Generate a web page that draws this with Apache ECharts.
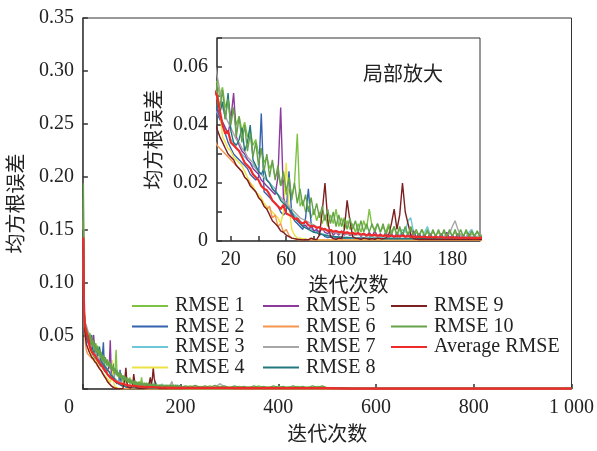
<!DOCTYPE html>
<html>
<head>
<meta charset="utf-8">
<script src="https://cdn.jsdelivr.net/npm/echarts@6/dist/echarts.min.js"></script>
<style>html,body{margin:0;padding:0;background:#fff}#c{width:597px;height:451px}</style>
</head>
<body>
<div id="c"></div>
<script>
// Iteration numbers (shared x values)
const ITER = [1,2,3,4,5,6,7,8,9,
10,12,14,16,18,20,22,24,26,28,30,32,34,36,38,40,42,44,46,48,
50,52,54,56,58,60,62,64,66,68,70,72,74,76,78,80,82,84,86,88,
90,92,94,96,98,100,102,104,106,108,110,112,114,116,118,120,122,124,126,128,
130,132,134,136,138,140,142,144,146,148,150,152,154,156,158,160,162,164,166,168,
170,172,174,176,178,180,182,184,186,188,190,192,194,196,198,200,
210,220,230,240,250,260,270,280,290,300,310,320,330,340,350,360,370,380,390,400,
410,420,430,440,450,460,470,480,490,500,
550,600,650,700,750,800,850,900,950,1000];

const NAMES = ['RMSE 1','RMSE 2','RMSE 3','RMSE 4','RMSE 5','RMSE 6','RMSE 7','RMSE 8','RMSE 9','RMSE 10','Average RMSE'];
const COLORS = ['#7dc243','#3563ad','#6cc8d6','#ece343','#8c3a9c','#f5964f','#a6a6a6','#23787e','#7b1f1f','#65a24a','#ee2b2b'];

const rmse1 = [0.180,0.092,0.072,0.064,0.060,0.058,0.056,0.055,0.055,
0.055,0.050,0.053,0.046,0.049,0.043,0.046,0.040,0.043,0.038,
0.041,0.036,0.038,0.033,0.035,0.030,0.032,0.027,0.029,0.025,
0.027,0.022,0.024,0.019,0.021,0.016,0.018,0.014,0.020,0.037,
0.012,0.014,0.010,0.012,0.008,0.011,0.007,0.010,0.006,0.009,
0.005,0.009,0.006,0.011,0.005,0.008,0.004,0.007,0.004,0.006,
0.003,0.006,0.003,0.007,0.004,0.011,0.005,0.004,0.006,0.003,
0.005,0.003,0.006,0.003,0.005,0.002,0.004,0.002,0.004,0.002,
0.004,0.002,0.003,0.002,0.004,0.002,0.003,0.002,0.003,0.002,
0.003,0.002,0.003,0.0015,0.003,0.002,0.003,0.0015,0.0025,0.002,
0.003,0.0015,0.0025,0.002,0.003,0.002,
0.002,0.003,0.0015,0.0025,0.0015,0.003,0.0015,0.0025,0.001,0.002,
0.0015,0.0025,0.001,0.002,0.0015,0.003,0.001,0.002,0.0015,0.0025,
0.001,0.002,0.0015,0.0025,0.001,0.002,0.0015,0.0025,0.002,0.001,
0.0005,0.0005,0.0005,0.0005,0.0005,0.0005,0.0005,0.0005,0.0005,0.0005];

const rmse2 = [0.150,0.085,0.070,0.060,0.055,0.050,0.048,0.046,0.045,
0.045,0.042,0.040,0.037,0.034,0.032,0.030,0.029,0.028,0.027,
0.026,0.025,0.023,0.022,0.021,0.022,0.044,0.017,0.016,0.015,
0.014,0.013,0.012,0.010,0.009,0.010,0.024,0.009,0.007,0.006,
0.005,0.004,0.008,0.018,0.006,0.003,0.0035,0.002,0.0025,0.0015,
0.0012,0.0014,0.001,0.0012,0.001,0.0011,0.0009,0.001,0.0009,0.001,
0.0008,0.0009,0.0008,0.0009,0.0008,0.0009,0.0008,0.0009,0.0008,0.0008,
0.0007,0.0008,0.0007,0.0008,0.0007,0.0008,0.0007,0.0008,0.0007,0.0007,
0.0007,0.0007,0.0006,0.0007,0.0006,0.0007,0.0006,0.0007,0.0006,0.0006,
0.0006,0.0006,0.0006,0.0006,0.0006,0.0006,0.0006,0.0006,0.0006,0.0006,
0.0006,0.0006,0.0006,0.0006,0.0006,0.0006,
0.0006,0.0006,0.0006,0.0006,0.0006,0.0005,0.0005,0.0005,0.0005,0.0005,
0.0006,0.0006,0.0006,0.0006,0.0006,0.0005,0.0005,0.0005,0.0005,0.0005,
0.0006,0.0006,0.0006,0.0006,0.0006,0.0005,0.0005,0.0005,0.0005,0.0005,
0.0004,0.0004,0.0004,0.0004,0.0004,0.0004,0.0004,0.0004,0.0004,0.0004];

const rmse3 = [0.130,0.080,0.065,0.057,0.052,0.049,0.047,0.046,0.045,
0.045,0.043,0.041,0.039,0.037,0.035,0.034,0.032,0.031,0.030,
0.029,0.028,0.027,0.026,0.025,0.024,0.023,0.022,0.021,0.020,
0.019,0.018,0.016,0.015,0.014,0.013,0.011,0.010,0.009,0.008,
0.007,0.006,0.005,0.0045,0.004,0.0035,0.003,0.0028,0.0025,0.0022,
0.002,0.0018,0.0016,0.0015,0.0014,0.0013,0.0012,0.0012,0.0011,0.001,
0.001,0.0012,0.001,0.0011,0.001,0.0012,0.001,0.0011,0.001,0.0012,
0.001,0.0012,0.001,0.0012,0.001,0.0015,0.002,0.004,0.003,0.007,
0.008,0.003,0.0015,0.001,0.0015,0.003,0.005,0.002,0.001,0.0012,
0.001,0.0012,0.001,0.0012,0.001,0.0012,0.001,0.0015,0.001,0.0012,
0.0015,0.003,0.004,0.002,0.001,0.0012,
0.001,0.0012,0.001,0.0015,0.001,0.0012,0.001,0.001,0.0012,0.001,
0.0009,0.001,0.0009,0.001,0.0009,0.001,0.0009,0.0008,0.0009,0.0008,
0.0008,0.0008,0.0007,0.0008,0.0007,0.0008,0.0007,0.0007,0.0007,0.0007,
0.0004,0.0004,0.0004,0.0004,0.0004,0.0004,0.0004,0.0004,0.0004,0.0004];

const rmse4 = [0.160,0.080,0.066,0.058,0.053,0.050,0.050,0.051,0.052,
0.052,0.045,0.036,0.034,0.032,0.031,0.029,0.028,0.027,0.026,
0.024,0.022,0.020,0.019,0.017,0.016,0.015,0.013,0.012,0.011,
0.010,0.009,0.008,0.006,0.010,0.027,0.012,0.004,0.002,0.001,
0.001,0.0008,0.0006,0.0005,0.0005,0.0004,0.0004,0.0004,0.0004,0.0004,
0.0004,0.0004,0.0004,0.0004,0.0004,0.0004,0.0004,0.0004,0.0004,0.0004,
0.0004,0.0004,0.0004,0.0004,0.0004,0.0004,0.0004,0.0004,0.0004,0.0004,
0.0003,0.0003,0.0003,0.0003,0.0003,0.0003,0.0003,0.0003,0.0003,0.0003,
0.0003,0.0003,0.0003,0.0003,0.0003,0.0003,0.0003,0.0003,0.0003,0.0003,
0.0003,0.0003,0.0003,0.0003,0.0003,0.0003,0.0003,0.0003,0.0003,0.0003,
0.0003,0.0003,0.0003,0.0003,0.0003,0.0003,
0.0003,0.0003,0.0003,0.0003,0.0003,0.0003,0.0003,0.0003,0.0003,0.0003,
0.0003,0.0003,0.0003,0.0003,0.0003,0.0003,0.0003,0.0003,0.0003,0.0003,
0.0003,0.0003,0.0003,0.0003,0.0003,0.0003,0.0003,0.0003,0.0003,0.0003,
0.0003,0.0003,0.0003,0.0003,0.0003,0.0003,0.0003,0.0003,0.0003,0.0003];

const rmse5 = [0.140,0.080,0.066,0.058,0.053,0.050,0.048,0.047,0.046,
0.046,0.043,0.041,0.039,0.037,0.042,0.051,0.036,0.033,0.031,
0.030,0.028,0.027,0.025,0.024,0.023,0.021,0.020,0.019,0.018,
0.017,0.016,0.022,0.046,0.015,0.012,0.011,0.009,0.008,0.007,
0.006,0.005,0.0055,0.004,0.005,0.0035,0.004,0.003,0.0045,0.003,
0.0025,0.004,0.002,0.003,0.002,0.0035,0.002,0.003,0.0018,0.0025,
0.002,0.003,0.0015,0.0025,0.0015,0.003,0.0015,0.0035,0.0015,0.0025,
0.0015,0.003,0.0012,0.0025,0.0012,0.0028,0.0012,0.003,0.0012,0.0025,
0.001,0.0035,0.0012,0.0025,0.001,0.002,0.001,0.0025,0.001,0.002,
0.001,0.0025,0.001,0.003,0.001,0.002,0.001,0.0025,0.001,0.002,
0.001,0.0025,0.001,0.002,0.001,0.0015,
0.001,0.0015,0.001,0.0012,0.001,0.0015,0.001,0.0012,0.001,0.0012,
0.0009,0.0012,0.0009,0.001,0.0009,0.0012,0.0009,0.001,0.0009,0.001,
0.0008,0.0015,0.0008,0.001,0.0008,0.0012,0.0008,0.001,0.0008,0.0008,
0.0004,0.0004,0.0004,0.0004,0.0004,0.0004,0.0004,0.0004,0.0004,0.0004];

const rmse6 = [0.120,0.075,0.060,0.052,0.045,0.040,0.037,0.035,0.034,
0.033,0.032,0.031,0.030,0.029,0.028,0.027,0.026,0.025,0.024,
0.022,0.021,0.020,0.018,0.017,0.015,0.014,0.012,0.011,0.012,
0.008,0.009,0.005,0.006,0.003,0.004,0.002,0.001,0.0008,0.0005,
0.0004,0.0004,0.0004,0.0004,0.0004,0.0004,0.0004,0.0004,0.0004,0.0004,
0.0004,0.0004,0.0004,0.0004,0.0004,0.0004,0.0004,0.0004,0.0004,0.0004,
0.0004,0.0004,0.0004,0.0004,0.0004,0.0004,0.0004,0.0004,0.0004,0.0004,
0.0003,0.0003,0.0003,0.0003,0.0003,0.0003,0.0003,0.0003,0.0003,0.0003,
0.0003,0.0003,0.0003,0.0003,0.0003,0.0003,0.0003,0.0003,0.0003,0.0003,
0.0003,0.0003,0.0003,0.0003,0.0003,0.0003,0.0003,0.0003,0.0003,0.0003,
0.0003,0.0003,0.0003,0.0003,0.0003,0.0003,
0.0003,0.0003,0.0003,0.0003,0.0003,0.0003,0.0003,0.0003,0.0003,0.0003,
0.0003,0.0003,0.0003,0.0003,0.0003,0.0003,0.0003,0.0003,0.0003,0.0003,
0.0003,0.0003,0.0003,0.0003,0.0003,0.0003,0.0003,0.0003,0.0003,0.0003,
0.0003,0.0003,0.0003,0.0003,0.0003,0.0003,0.0003,0.0003,0.0003,0.0003];

const rmse7 = [0.170,0.090,0.070,0.065,0.062,0.061,0.060,0.060,0.060,
0.060,0.052,0.046,0.043,0.041,0.039,0.037,0.035,0.034,0.032,
0.031,0.029,0.028,0.027,0.025,0.024,0.023,0.022,0.021,0.020,
0.018,0.017,0.016,0.015,0.014,0.013,0.012,0.011,0.010,0.009,
0.008,0.0075,0.007,0.0065,0.006,0.0055,0.005,0.0045,0.004,0.0038,
0.0035,0.0033,0.003,0.0028,0.0026,0.0025,0.0024,0.0023,0.0022,0.0021,
0.002,0.0022,0.0018,0.002,0.0017,0.0019,0.0016,0.0018,0.0015,0.0017,
0.0015,0.0017,0.0014,0.0016,0.0014,0.0016,0.0013,0.0015,0.0013,0.0015,
0.0013,0.0015,0.0012,0.0014,0.0012,0.0014,0.0012,0.0014,0.0012,0.0014,
0.0012,0.0014,0.0015,0.002,0.0025,0.005,0.007,0.004,0.002,0.0015,
0.0015,0.002,0.0015,0.0018,0.0015,0.002,
0.0015,0.0012,0.002,0.0015,0.0012,0.0015,0.0012,0.005,0.002,0.0012,
0.0015,0.0012,0.0015,0.0012,0.0015,0.001,0.0012,0.001,0.0012,0.001,
0.0012,0.001,0.0012,0.001,0.0012,0.001,0.001,0.001,0.001,0.001,
0.0005,0.0005,0.0005,0.0005,0.0005,0.0005,0.0005,0.0005,0.0005,0.0005];

const rmse8 = [0.150,0.085,0.070,0.060,0.055,0.052,0.050,0.048,0.047,
0.046,0.044,0.048,0.042,0.051,0.038,0.034,0.033,0.035,0.039,
0.031,0.034,0.040,0.028,0.026,0.024,0.023,0.025,0.021,0.020,
0.018,0.017,0.016,0.014,0.013,0.012,0.011,0.010,0.008,0.007,
0.006,0.005,0.0045,0.004,0.0035,0.003,0.0028,0.0025,0.0022,0.002,
0.0018,0.0017,0.0016,0.0015,0.0014,0.0013,0.0012,0.0012,0.0011,0.0011,
0.001,0.001,0.001,0.001,0.0009,0.0009,0.0009,0.0009,0.0009,0.0009,
0.0008,0.0008,0.0008,0.0008,0.0008,0.0008,0.0008,0.0008,0.0008,0.0008,
0.0008,0.0008,0.0008,0.0008,0.0008,0.0008,0.0008,0.0008,0.0008,0.0008,
0.0007,0.0007,0.0007,0.0007,0.0007,0.0007,0.0007,0.0007,0.0007,0.0007,
0.0007,0.0007,0.0007,0.0007,0.0007,0.0007,
0.0006,0.0006,0.0006,0.0006,0.0006,0.0006,0.0006,0.0006,0.0006,0.0006,
0.0006,0.0006,0.0006,0.0006,0.0006,0.0006,0.0006,0.0006,0.0006,0.0006,
0.0006,0.0006,0.0006,0.0006,0.0006,0.0006,0.0006,0.0006,0.0006,0.0006,
0.0004,0.0004,0.0004,0.0004,0.0004,0.0004,0.0004,0.0004,0.0004,0.0004];

const rmse9 = [0.150,0.080,0.065,0.055,0.050,0.046,0.043,0.041,0.040,
0.040,0.036,0.034,0.032,0.030,0.029,0.028,0.026,0.025,0.024,
0.022,0.021,0.019,0.018,0.017,0.015,0.014,0.012,0.011,0.009,
0.007,0.006,0.005,0.0035,0.003,0.002,0.0015,0.001,0.0008,0.0006,
0.0005,0.0004,0.0005,0.0004,0.001,0.0006,0.0005,0.002,0.010,0.020,
0.007,0.0015,0.0008,0.0006,0.001,0.0008,0.004,0.014,0.007,0.0015,
0.001,0.0008,0.0006,0.001,0.0008,0.0006,0.0008,0.0006,0.001,0.0008,
0.0008,0.001,0.002,0.006,0.011,0.004,0.009,0.020,0.010,0.006,
0.002,0.0008,0.0006,0.0005,0.0006,0.0005,0.0006,0.0005,0.0006,0.0005,
0.0005,0.0005,0.0005,0.0005,0.0005,0.0005,0.0005,0.0005,0.0005,0.0005,
0.0005,0.0005,0.0005,0.0005,0.0005,0.0005,
0.0007,0.0007,0.0007,0.0007,0.0007,0.0007,0.0007,0.0007,0.0007,0.0007,
0.0007,0.0007,0.0007,0.0007,0.0007,0.0007,0.0007,0.0007,0.0007,0.0007,
0.0007,0.0007,0.0007,0.0007,0.0007,0.0007,0.0007,0.0007,0.0007,0.0007,
0.0007,0.0007,0.0007,0.0007,0.0007,0.0007,0.0007,0.0007,0.0007,0.0007];

const rmse10 = [0.194,0.095,0.070,0.062,0.060,0.058,0.057,0.056,0.055,
0.055,0.046,0.052,0.042,0.049,0.040,0.046,0.036,0.043,0.034,
0.040,0.031,0.037,0.029,0.034,0.026,0.032,0.024,0.030,0.022,
0.028,0.021,0.026,0.019,0.024,0.017,0.022,0.015,0.020,0.013,
0.018,0.012,0.016,0.010,0.015,0.009,0.013,0.008,0.012,0.007,
0.011,0.006,0.010,0.005,0.009,0.005,0.008,0.004,0.008,0.004,
0.007,0.003,0.007,0.003,0.006,0.003,0.006,0.003,0.006,0.003,
0.006,0.002,0.005,0.002,0.005,0.002,0.005,0.002,0.005,0.002,
0.005,0.002,0.004,0.0015,0.004,0.0015,0.004,0.0015,0.004,0.0015,
0.004,0.0015,0.004,0.0015,0.004,0.0015,0.004,0.0015,0.004,0.0015,
0.004,0.0015,0.0035,0.0015,0.0035,0.0015,
0.003,0.0015,0.0035,0.0015,0.003,0.001,0.0035,0.0015,0.003,0.001,
0.003,0.0015,0.0025,0.001,0.003,0.0015,0.0025,0.001,0.003,0.0015,
0.0025,0.001,0.003,0.0015,0.0025,0.001,0.003,0.0015,0.003,0.001,
0.0005,0.0005,0.0005,0.0005,0.0005,0.0005,0.0005,0.0005,0.0005,0.0005];

const avgRmse = [0.143,0.085,0.068,0.062,0.058,0.056,0.054,0.052,0.051,
0.050,0.045,0.040,0.037,0.038,0.034,0.033,0.032,0.031,0.029,
0.027,0.026,0.025,0.023,0.022,0.021,0.019,0.018,0.0175,0.016,
0.014,0.013,0.012,0.011,0.0125,0.0095,0.009,0.0085,0.0075,0.0078,
0.0065,0.006,0.0068,0.0055,0.005,0.0052,0.0045,0.0048,0.004,0.0042,
0.0035,0.0038,0.0032,0.0035,0.003,0.0032,0.0028,0.003,0.0026,0.0028,
0.0024,0.0027,0.0022,0.0025,0.002,0.0023,0.0019,0.0022,0.0018,0.002,
0.0017,0.002,0.0016,0.0019,0.0015,0.0018,0.0016,0.0019,0.0015,0.0017,
0.0014,0.0016,0.0013,0.0015,0.0013,0.0015,0.0012,0.0014,0.0012,0.0014,
0.0012,0.0014,0.0011,0.0013,0.0011,0.0013,0.0011,0.0012,0.001,0.0012,
0.001,0.0012,0.001,0.0011,0.001,0.0011,
0.001,0.0011,0.001,0.0011,0.001,0.001,0.001,0.0011,0.001,0.001,
0.0009,0.001,0.0009,0.001,0.0009,0.0009,0.0009,0.001,0.0009,0.0009,
0.0008,0.0009,0.0008,0.0009,0.0008,0.0008,0.0008,0.0008,0.0008,0.0008,
0.0003,0.0003,0.0003,0.0003,0.0003,0.0003,0.0003,0.0003,0.0003,0.0003];

const SERIES_DATA = [rmse1, rmse2, rmse3, rmse4, rmse5, rmse6, rmse7, rmse8, rmse9, rmse10, avgRmse];

// tick labels
const MAIN_X_TICKS = [0, 200, 400, 600, 800, 1000];
const INSET_X_LABELS = [20, 60, 100, 140, 180];
const INSET_X_TICKS = [20, 40, 60, 80, 100, 120, 140, 160, 180];

const FONT = '"Liberation Serif","Times New Roman","Noto Sans CJK SC",serif';
const TXT = '#222';

function pairs(arr) { return ITER.map((x, i) => [x, arr[i]]); }

const series = [];
[0, 1].forEach(g => {
  SERIES_DATA.forEach((arr, i) => {
    const isAvg = i === SERIES_DATA.length - 1;
    series.push({
      name: NAMES[i], type: 'line', xAxisIndex: g, yAxisIndex: g,
      data: pairs(arr), symbol: 'none', showSymbol: false,
      lineStyle: { color: COLORS[i], width: isAvg ? 2.2 : 1.4 },
      itemStyle: { color: COLORS[i] },
      z: g === 1 ? 6 : 2, silent: true
    });
  });
});

const axisLineStyle = { color: '#444', width: 1.5 };
const legendBase = {
  orient: 'vertical', icon: 'rect', itemWidth: 36, itemHeight: 2, itemGap: 0.5, padding: 0,
  textStyle: { fontSize: 20, fontFamily: FONT, color: TXT, lineHeight: 20, padding: [0, 0, 0, 2] },
  selectedMode: false
};

const option = {
  animation: false,
  backgroundColor: '#fff',
  grid: [
    { left: 81, right: 25, top: 18, bottom: 53, show: true, borderColor: '#333', borderWidth: 1, backgroundColor: 'transparent' },
    { left: 217, right: 117, top: 38, bottom: 210, show: true, borderColor: '#333', borderWidth: 1, backgroundColor: '#fff', z: 4 }
  ],
  xAxis: [
    {
      gridIndex: 0, type: 'value', min: 0, max: 1000, interval: 200,
      splitLine: { show: false },
      axisLine: { lineStyle: axisLineStyle },
      axisTick: { inside: true, length: 5, lineStyle: { color: '#333', width: 1.5 } },
      axisLabel: {
        margin: 9, fontSize: 20, fontFamily: FONT, color: TXT,
        formatter: v => v === 0 ? '{z|0}' : (v === 1000 ? '1 000' : String(v)),
        rich: { z: { fontSize: 20, fontFamily: FONT, color: TXT, padding: [0, 28, 0, 0] } }
      },
      name: '迭代次数', nameLocation: 'middle', nameGap: 37,
      nameTextStyle: { fontSize: 20, fontFamily: FONT, color: TXT, verticalAlign: 'top' }
    },
    {
      gridIndex: 1, type: 'value', min: 10, max: 200,
      splitLine: { show: false },
      axisLine: { lineStyle: axisLineStyle },
      axisTick: { inside: true, length: 5, customValues: INSET_X_TICKS, lineStyle: { color: '#333', width: 1.5 } },
      axisLabel: { margin: 9, fontSize: 20, fontFamily: FONT, color: TXT, customValues: INSET_X_LABELS },
      name: '迭代次数', nameLocation: 'middle', nameGap: 36,
      nameTextStyle: { fontSize: 20, fontFamily: FONT, color: TXT, verticalAlign: 'top' },
      z: 6
    }
  ],
  yAxis: [
    {
      gridIndex: 0, type: 'value', min: 0, max: 0.35, interval: 0.05,
      splitLine: { show: false },
      axisLine: { lineStyle: axisLineStyle },
      axisTick: { inside: true, length: 5, lineStyle: { color: '#333', width: 1.5 } },
      axisLabel: { margin: 9, fontSize: 20, fontFamily: FONT, color: TXT,
        formatter: v => v === 0 ? '' : v.toFixed(2) },
      name: '均方根误差', nameLocation: 'middle', nameGap: 53,
      nameTextStyle: { fontSize: 20, fontFamily: FONT, color: TXT }
    },
    {
      gridIndex: 1, type: 'value', min: 0, max: 0.07, interval: 0.01,
      splitLine: { show: false },
      axisLine: { lineStyle: axisLineStyle },
      axisTick: { inside: true, length: 5, lineStyle: { color: '#333', width: 1.5 } },
      axisLabel: { margin: 9, fontSize: 20, fontFamily: FONT, color: TXT,
        formatter: v => { const k = Math.round(v * 100); return k % 2 === 0 ? (k === 0 ? '0' : v.toFixed(2)) : ''; } },
      name: '均方根误差', nameLocation: 'middle', nameGap: 51,
      nameTextStyle: { fontSize: 20, fontFamily: FONT, color: TXT },
      z: 6
    }
  ],
  legend: [
    Object.assign({}, legendBase, { left: 132, top: 296, data: NAMES.slice(0, 4) }),
    Object.assign({}, legendBase, { left: 263, top: 296, data: NAMES.slice(4, 8) }),
    Object.assign({}, legendBase, { left: 391, top: 296, data: NAMES.slice(8, 11) })
  ],
  graphic: [
    { type: 'text', left: 363, top: 66, z: 10,
      style: { text: '局部放大', fontSize: 20, fontFamily: FONT, fill: TXT } }
  ],
  series: series
};

const chart = echarts.init(document.getElementById('c'), null, { renderer: 'canvas' });
chart.setOption(option);
</script>
</body>
</html>
